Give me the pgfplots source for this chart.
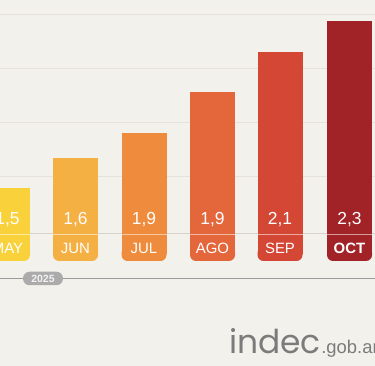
\documentclass[border=0pt]{standalone}
\usepackage{pgfplots}
\pgfplotsset{compat=1.18}
\usepackage{fontspec}
\setmainfont{Liberation Sans}
\newfontfamily\logofont{Poppins}
\definecolor{bg}{HTML}{F3F1EC}
\definecolor{gridc}{HTML}{E5E2DB}
\definecolor{cMay}{HTML}{F8D13B}
\definecolor{cJun}{HTML}{F5B043}
\definecolor{cJul}{HTML}{EE8B3C}
\definecolor{cAgo}{HTML}{E4663B}
\definecolor{cSep}{HTML}{D34734}
\definecolor{cOct}{HTML}{A22327}
\definecolor{logoc}{HTML}{7B7B7B}
\definecolor{pillc}{HTML}{ABABAB}
\pgfplotsset{
  mybar/.style={ybar, bar width=45bp, bar shift=0pt, draw=none, fill=#1},
  mypill/.style={ybar, bar width=45bp, bar shift=0pt, draw=none, fill=#1, rounded corners=6bp},
}
\begin{document}
\begin{tikzpicture}
\begin{axis}[
  at={(0,0)}, anchor=south west,
  scale only axis, width=375bp, height=366bp,
  xmin=0, xmax=375, ymin=-119, ymax=247,
  hide axis,
]
\fill[bg] (rel axis cs:0,0) rectangle (rel axis cs:1,1);
% grid lines
\addplot[gridc, line width=1bp] coordinates {(0,232) (375,232)};
\addplot[gridc, line width=1bp] coordinates {(0,178) (375,178)};
\addplot[gridc, line width=1bp] coordinates {(0,124) (375,124)};
\addplot[gridc, line width=1bp] coordinates {(0,70) (375,70)};
\addplot[gridc!85!gray, line width=1bp] coordinates {(0,13) (375,13)};
% bars (heights as drawn)
\addplot[mybar=cMay] coordinates {(7.5,59)};
\addplot[mybar=cJun] coordinates {(75.5,89)};
\addplot[mybar=cJul] coordinates {(144,114)};
\addplot[mybar=cAgo] coordinates {(212.5,155)};
\addplot[mybar=cSep] coordinates {(280,195)};
\addplot[mybar=cOct] coordinates {(349.5,226)};
% label pills
\addplot[mypill=cMay] coordinates {(7.5,-14)};
\addplot[mypill=cJun] coordinates {(75.5,-14)};
\addplot[mypill=cJul] coordinates {(144,-14)};
\addplot[mypill=cAgo] coordinates {(212.5,-14)};
\addplot[mypill=cSep] coordinates {(280,-14)};
\addplot[mypill=cOct] coordinates {(349.5,-14)};
\addplot[mybar=cMay] coordinates {(7.5,-7)};
\addplot[mybar=cJun] coordinates {(75.5,-7)};
\addplot[mybar=cJul] coordinates {(144,-7)};
\addplot[mybar=cAgo] coordinates {(212.5,-7)};
\addplot[mybar=cSep] coordinates {(280,-7)};
\addplot[mybar=cOct] coordinates {(349.5,-7)};
% separator line over bars
\foreach \c in {7.5,75.5,144,212.5,280,349.5}{
  \edef\temp{\noexpand\draw[white, opacity=0.55, line width=0.9bp] (axis cs:\c-22.5,13) -- (axis cs:\c+22.5,13);}
  \temp
}
% value labels
\addplot[draw=none, mark=none, nodes near coords, point meta=explicit symbolic,
  every node near coord/.style={anchor=center, text=white, font=\fontsize{17.5}{18}\selectfont}]
  coordinates {(7.5,27.5) [1,5] (75.5,27.5) [1,6] (144,27.5) [1,9] (212.5,27.5) [1,9] (280,27.5) [2,1] (349.5,27.5) [2,3]};
% month labels
\addplot[draw=none, mark=none, nodes near coords, point meta=explicit symbolic,
  every node near coord/.style={anchor=center, text=white, font=\fontsize{15}{16}\selectfont}]
  coordinates {(7.5,-1) [MAY] (75.5,-1) [JUN] (144,-1) [JUL] (212.5,-1) [AGO] (280,-1) [SEP] (349.5,-1) [\textbf{OCT}]};
% bottom timeline
\addplot[pillc!90!black, line width=0.9bp] coordinates {(0,-31) (375,-31)};
\node[fill=pillc, rounded corners=6.5bp, minimum width=40bp, minimum height=13.5bp, inner sep=0pt,
  text=white!90!gray, font=\bfseries\fontsize{10.5}{11}\selectfont] at (axis cs:43,-31.5) {2025};
% logo
\node[anchor=base west, inner sep=0pt, text=logoc, font=\logofont\fontsize{33}{34}\selectfont] (logo) at (axis cs:229,-106) {indec};
\node[anchor=base west, inner sep=0pt, text=logoc, font=\fontsize{18.5}{19}\selectfont] at (logo.base east) {.gob.ar};
\end{axis}
\pgfresetboundingbox
\path (current axis.south west) rectangle (current axis.north east);
\end{tikzpicture}
\end{document}
